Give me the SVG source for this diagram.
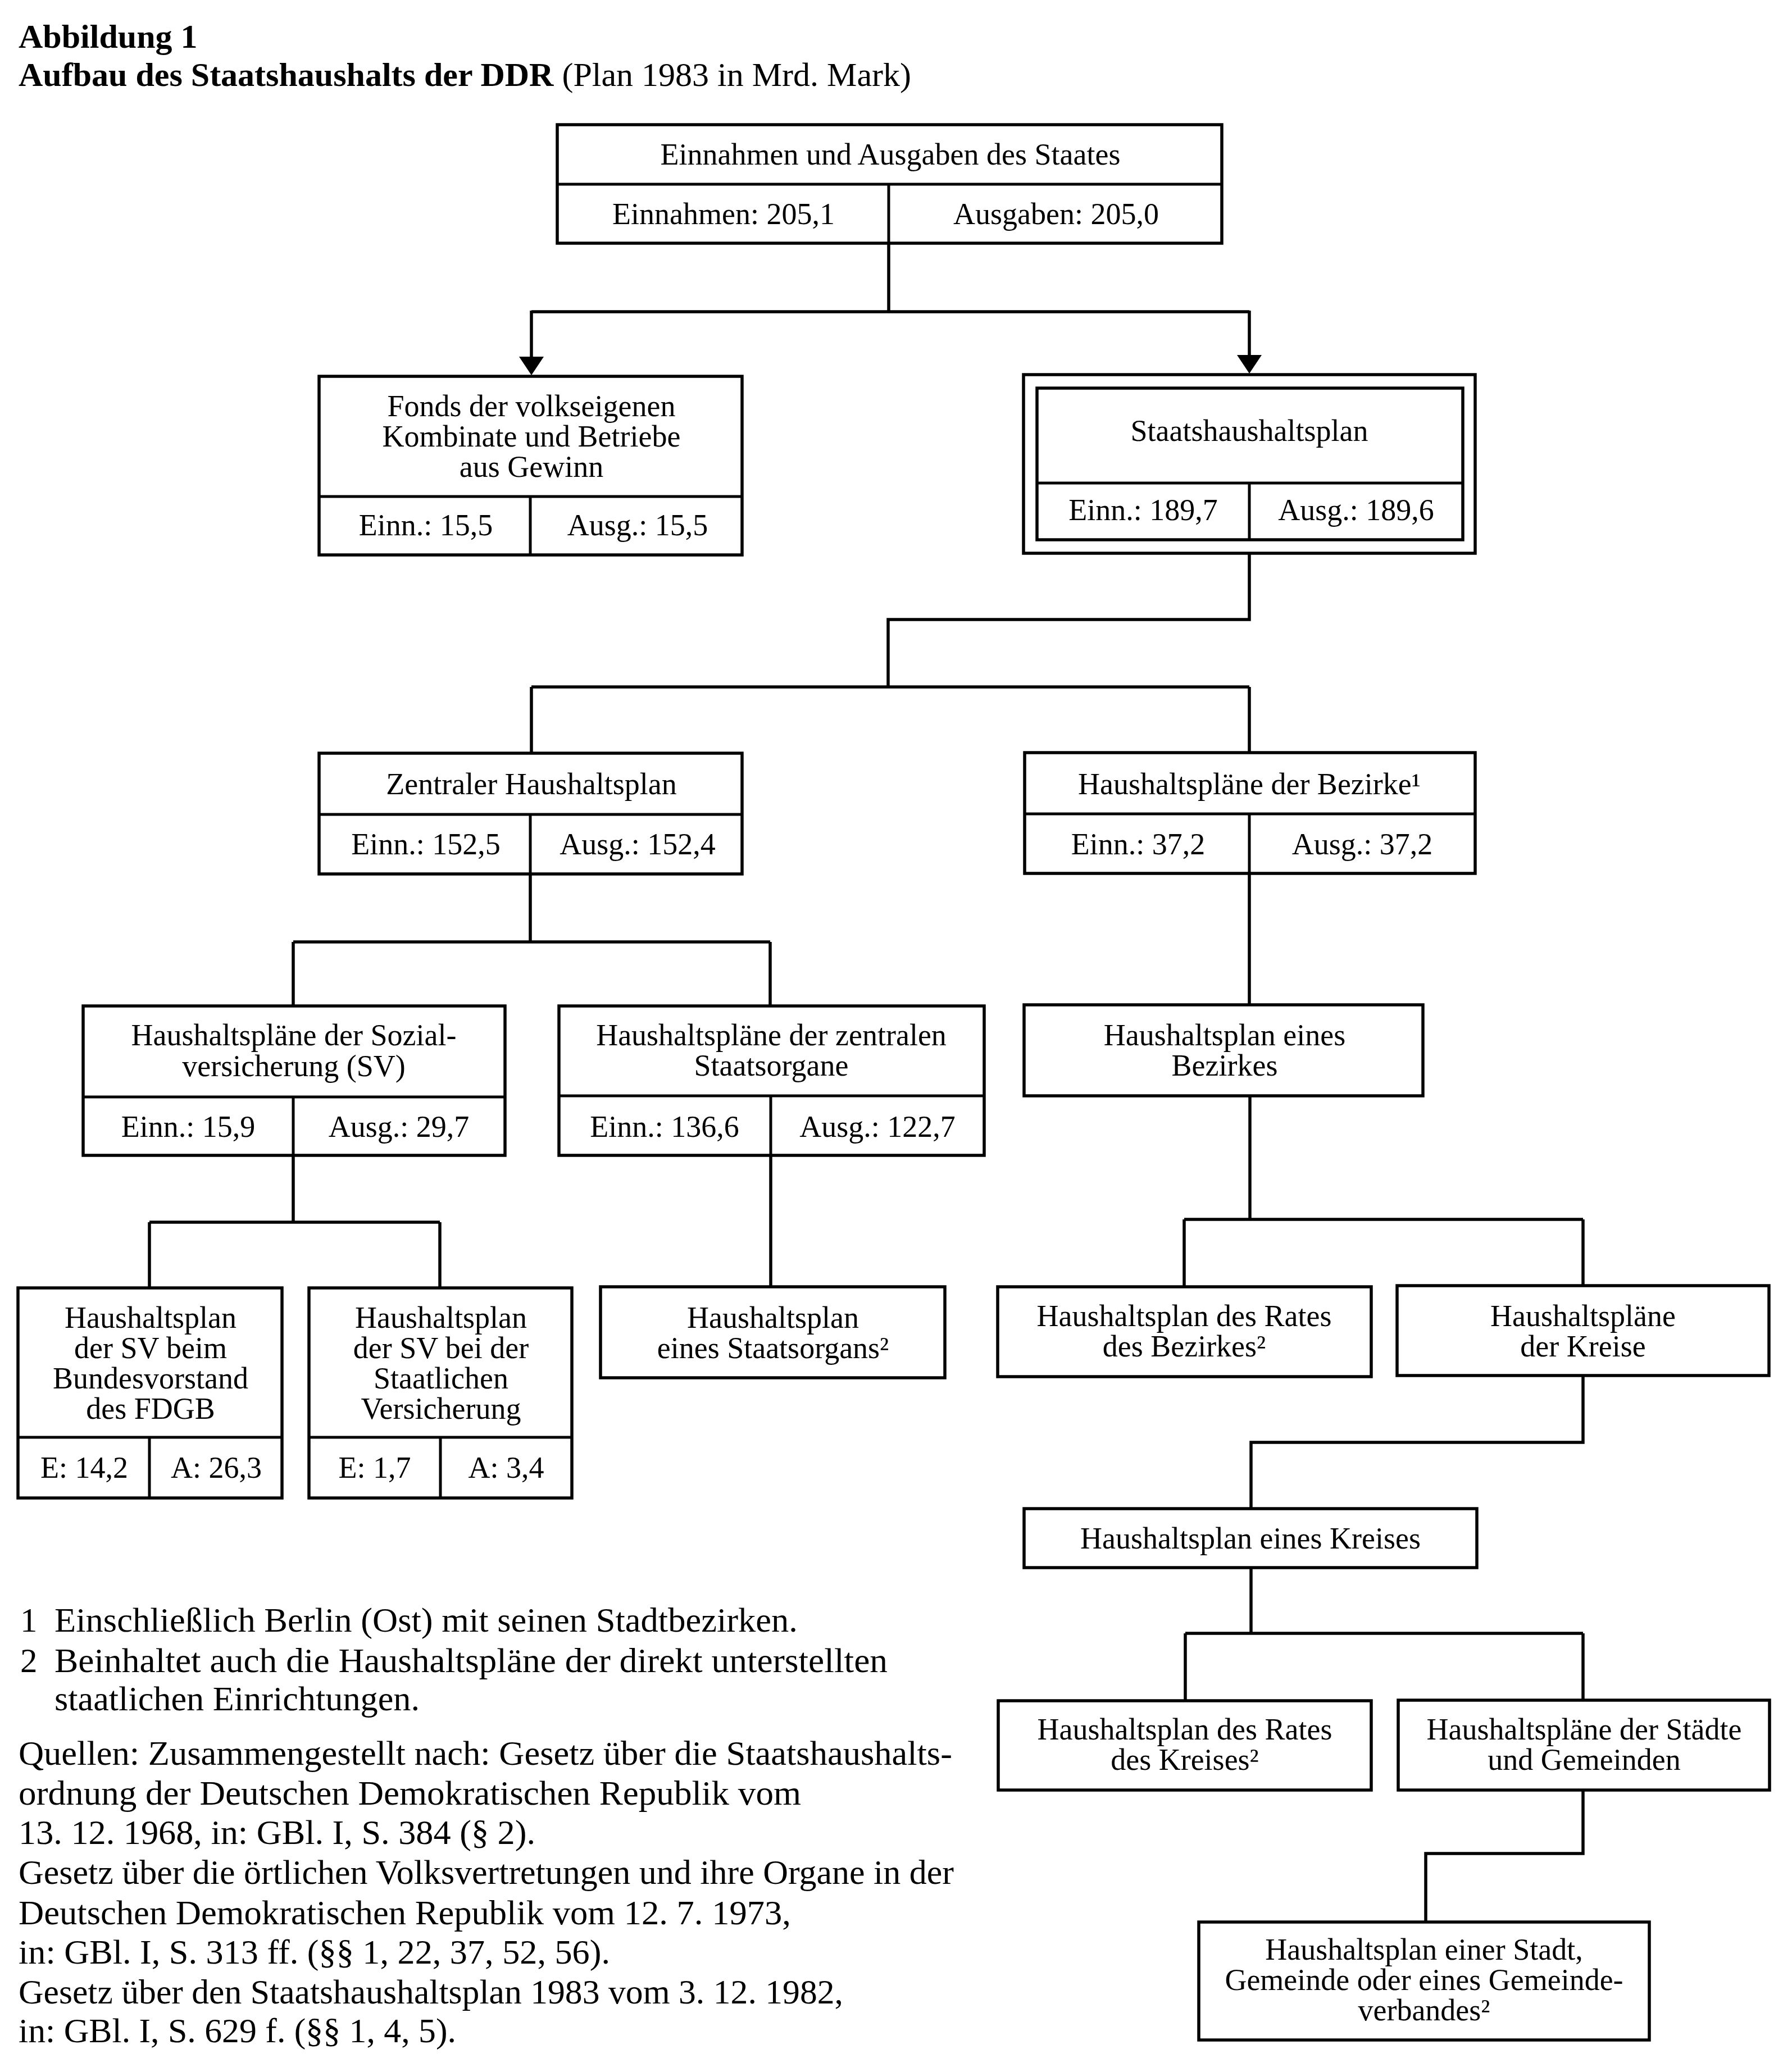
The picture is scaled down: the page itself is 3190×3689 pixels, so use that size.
<svg xmlns="http://www.w3.org/2000/svg" width="3190" height="3689" viewBox="0 0 3190 3689">
<style>
text{font-family:"Liberation Serif","Times New Roman",serif;fill:#000}
.t{font-size:54px;text-anchor:middle}
.box{fill:none;stroke:#000;stroke-width:5.5}
.div{fill:none;stroke:#000;stroke-width:5}
.con{fill:none;stroke:#000;stroke-width:5.5}
.fn{font-size:61px}
.title{font-size:60px}
</style>
<defs>
<marker id="arr" viewBox="0 0 33 44" refX="5" refY="22" markerWidth="33" markerHeight="44" markerUnits="userSpaceOnUse" orient="auto">
<path d="M0,0 L33,22 L0,44 z" fill="#000"/>
</marker>
</defs>
<rect width="3190" height="3689" fill="#fff"/>

<g id="title">
<text class="title" x="33" y="85" font-weight="bold">Abbildung 1</text>
<text class="title" x="33" y="153"><tspan font-weight="bold">Aufbau des Staatshaushalts der DDR</tspan> (Plan 1983 in Mrd. Mark)</text>
</g>

<g id="connectors">
<path class="con" d="M1582,433 V555 M946,555 H2224"/>
<path class="con" d="M946,553 V640" marker-end="url(#arr)"/>
<path class="con" d="M2224,553 V637" marker-end="url(#arr)"/>
<path class="con" d="M2224,985 V1103 H1581 V1223 M946,1223 H2224 M946,1223 V1341 M2224,1223 V1340"/>
<path class="con" d="M944,1556 V1677 M522,1677 H1371 M522,1677 V1791 M1371,1677 V1791"/>
<path class="con" d="M2224,1555 V1789"/>
<path class="con" d="M522,2057 V2176 M266,2176 H783 M266,2176 V2293 M783,2176 V2293"/>
<path class="con" d="M1372,2057 V2291"/>
<path class="con" d="M2225,1951 V2171 M2108,2171 H2818 M2108,2171 V2291 M2818,2171 V2289"/>
<path class="con" d="M2818,2449 V2568 H2227 V2686"/>
<path class="con" d="M2227,2791 V2908 M2110,2908 H2818 M2110,2908 V3028 M2818,2908 V3027"/>
<path class="con" d="M2818,3187 V3300 H2538 V3422"/>
</g>

<g id="n-staat">
<rect class="box" x="992" y="222" width="1183" height="211"/>
<path class="div" d="M992,328 H2175 M1582,328 V433"/>
<text class="t" x="1585" y="293">Einnahmen und Ausgaben des Staates</text>
<text class="t" x="1288" y="399">Einnahmen: 205,1</text>
<text class="t" x="1880" y="399">Ausgaben: 205,0</text>
</g>

<g id="n-fonds">
<rect class="box" x="568" y="670" width="753" height="318"/>
<path class="div" d="M568,884 H1321 M944,884 V988"/>
<text class="t" x="946" y="741">Fonds der volkseigenen</text>
<text class="t" x="946" y="795">Kombinate und Betriebe</text>
<text class="t" x="946" y="849">aus Gewinn</text>
<text class="t" x="758" y="953">Einn.: 15,5</text>
<text class="t" x="1135" y="953">Ausg.: 15,5</text>
</g>

<g id="n-shp">
<rect class="box" x="1822" y="667" width="804" height="318"/>
<rect class="box" x="1846" y="691" width="758" height="270"/>
<path class="div" d="M1846,860 H2604 M2224,860 V961"/>
<text class="t" x="2224" y="785">Staatshaushaltsplan</text>
<text class="t" x="2035" y="926">Einn.: 189,7</text>
<text class="t" x="2414" y="926">Ausg.: 189,6</text>
</g>

<g id="n-zentral">
<rect class="box" x="568" y="1341" width="753" height="215"/>
<path class="div" d="M568,1450 H1321 M944,1450 V1556"/>
<text class="t" x="946" y="1414">Zentraler Haushaltsplan</text>
<text class="t" x="758" y="1521">Einn.: 152,5</text>
<text class="t" x="1135" y="1521">Ausg.: 152,4</text>
</g>

<g id="n-bezirke">
<rect class="box" x="1824" y="1340" width="802" height="215"/>
<path class="div" d="M1824,1449 H2626 M2224,1449 V1555"/>
<text class="t" x="2224" y="1414">Haushaltspläne der Bezirke¹</text>
<text class="t" x="2026" y="1521">Einn.: 37,2</text>
<text class="t" x="2425" y="1521">Ausg.: 37,2</text>
</g>

<g id="n-sv">
<rect class="box" x="148" y="1791" width="751" height="266"/>
<path class="div" d="M148,1953 H899 M522,1953 V2057"/>
<text class="t" x="523" y="1861">Haushaltspläne der Sozial-</text>
<text class="t" x="523" y="1916">versicherung (SV)</text>
<text class="t" x="335" y="2024">Einn.: 15,9</text>
<text class="t" x="710" y="2024">Ausg.: 29,7</text>
</g>

<g id="n-zso">
<rect class="box" x="995" y="1791" width="757" height="266"/>
<path class="div" d="M995,1951 H1752 M1372,1951 V2057"/>
<text class="t" x="1373" y="1861">Haushaltspläne der zentralen</text>
<text class="t" x="1373" y="1915">Staatsorgane</text>
<text class="t" x="1183" y="2024">Einn.: 136,6</text>
<text class="t" x="1562" y="2024">Ausg.: 122,7</text>
</g>

<g id="n-bezirk">
<rect class="box" x="1823" y="1789" width="710" height="162"/>
<text class="t" x="2180" y="1861">Haushaltsplan eines</text>
<text class="t" x="2180" y="1915">Bezirkes</text>
</g>

<g id="n-fdgb">
<rect class="box" x="32" y="2293" width="470" height="374"/>
<path class="div" d="M32,2559 H502 M266,2559 V2667"/>
<text class="t" x="268" y="2364">Haushaltsplan</text>
<text class="t" x="268" y="2418">der SV beim</text>
<text class="t" x="268" y="2472">Bundesvorstand</text>
<text class="t" x="268" y="2526">des FDGB</text>
<text class="t" x="150" y="2631">E: 14,2</text>
<text class="t" x="385" y="2631">A: 26,3</text>
</g>

<g id="n-svstaat">
<rect class="box" x="550" y="2293" width="468" height="374"/>
<path class="div" d="M550,2559 H1018 M784,2559 V2667"/>
<text class="t" x="785" y="2364">Haushaltsplan</text>
<text class="t" x="785" y="2418">der SV bei der</text>
<text class="t" x="785" y="2472">Staatlichen</text>
<text class="t" x="785" y="2526">Versicherung</text>
<text class="t" x="667" y="2631">E: 1,7</text>
<text class="t" x="901" y="2631">A: 3,4</text>
</g>

<g id="n-organ">
<rect class="box" x="1069" y="2291" width="613" height="162"/>
<text class="t" x="1376" y="2364">Haushaltsplan</text>
<text class="t" x="1376" y="2418">eines Staatsorgans²</text>
</g>

<g id="n-ratbez">
<rect class="box" x="1776" y="2291" width="665" height="160"/>
<text class="t" x="2108" y="2361">Haushaltsplan des Rates</text>
<text class="t" x="2108" y="2415">des Bezirkes²</text>
</g>

<g id="n-kreise">
<rect class="box" x="2487" y="2289" width="662" height="160"/>
<text class="t" x="2818" y="2361">Haushaltspläne</text>
<text class="t" x="2818" y="2415">der Kreise</text>
</g>

<g id="n-kreis">
<rect class="box" x="1823" y="2686" width="806" height="105"/>
<text class="t" x="2226" y="2757">Haushaltsplan eines Kreises</text>
</g>

<g id="n-ratkreis">
<rect class="box" x="1777" y="3028" width="664" height="159"/>
<text class="t" x="2109" y="3097">Haushaltsplan des Rates</text>
<text class="t" x="2109" y="3151">des Kreises²</text>
</g>

<g id="n-staedte">
<rect class="box" x="2489" y="3027" width="661" height="160"/>
<text class="t" x="2820" y="3097">Haushaltspläne der Städte</text>
<text class="t" x="2820" y="3151">und Gemeinden</text>
</g>

<g id="n-gemeinde">
<rect class="box" x="2134" y="3422" width="802" height="210"/>
<text class="t" x="2535" y="3489">Haushaltsplan einer Stadt,</text>
<text class="t" x="2535" y="3543">Gemeinde oder eines Gemeinde-</text>
<text class="t" x="2535" y="3597">verbandes²</text>
</g>

<g id="footnotes">
<text class="fn" x="36" y="2905">1</text>
<text class="fn" x="97" y="2905" textLength="1323" lengthAdjust="spacingAndGlyphs">Einschließlich Berlin (Ost) mit seinen Stadtbezirken.</text>
<text class="fn" x="36" y="2977">2</text>
<text class="fn" x="97" y="2977" textLength="1483" lengthAdjust="spacingAndGlyphs">Beinhaltet auch die Haushaltspläne der direkt unterstellten</text>
<text class="fn" x="97" y="3045" textLength="650" lengthAdjust="spacingAndGlyphs">staatlichen Einrichtungen.</text>
<text class="fn" x="33" y="3142" textLength="1662" lengthAdjust="spacingAndGlyphs">Quellen: Zusammengestellt nach: Gesetz über die Staatshaushalts-</text>
<text class="fn" x="33" y="3213" textLength="1393" lengthAdjust="spacingAndGlyphs">ordnung der Deutschen Demokratischen Republik vom</text>
<text class="fn" x="33" y="3283" textLength="920" lengthAdjust="spacingAndGlyphs">13. 12. 1968, in: GBl. I, S. 384 (§ 2).</text>
<text class="fn" x="33" y="3354" textLength="1665" lengthAdjust="spacingAndGlyphs">Gesetz über die örtlichen Volksvertretungen und ihre Organe in der</text>
<text class="fn" x="33" y="3426" textLength="1375" lengthAdjust="spacingAndGlyphs">Deutschen Demokratischen Republik vom 12. 7. 1973,</text>
<text class="fn" x="33" y="3496" textLength="1053" lengthAdjust="spacingAndGlyphs">in: GBl. I, S. 313 ff. (§§ 1, 22, 37, 52, 56).</text>
<text class="fn" x="33" y="3567" textLength="1468" lengthAdjust="spacingAndGlyphs">Gesetz über den Staatshaushaltsplan 1983 vom 3. 12. 1982,</text>
<text class="fn" x="33" y="3636" textLength="779" lengthAdjust="spacingAndGlyphs">in: GBl. I, S. 629 f. (§§ 1, 4, 5).</text>
</g>
</svg>
